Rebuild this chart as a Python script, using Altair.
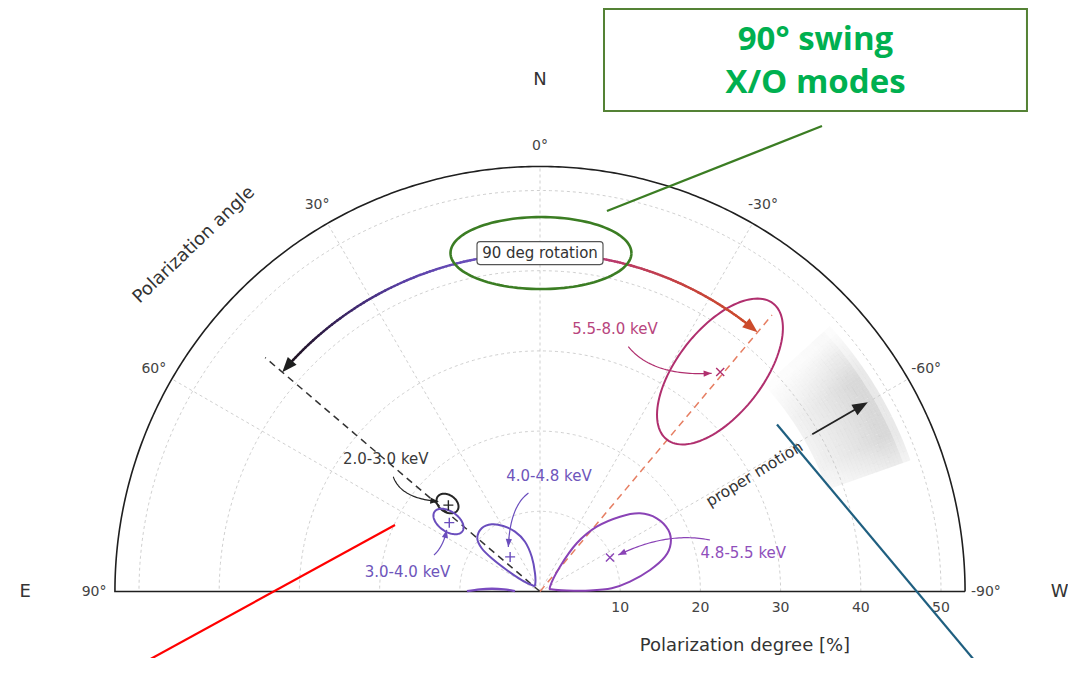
import math
import numpy as np
import pandas as pd
import altair as alt

# ---------------- values ----------------
R_MAX = 53.0                       # outer edge of the polarization-degree axis [%]
GRID_RADII = [10, 20, 30, 40, 50]
SPOKE_PA = [-60, -30, 0, 30, 60]
PA_TICKS = [90, 60, 30, 0, -30, -60, -90]
PA_TICK_LABELS = ["90°", "60°", "30°", "0°", "-30°", "-60°", "-90°"]
PD_TICKS = [10, 20, 30, 40, 50]
COMPASS = ["N", "E", "W"]
COMPASS_PA = [0, 90, -90]
COMPASS_R = [63.8, 64.2, 64.8]

BANDS = ["2.0-3.0 keV", "3.0-4.0 keV", "4.0-4.8 keV", "4.8-5.5 keV", "5.5-8.0 keV"]
BAND_COLORS = ["#262626", "#6a4dbd", "#6a4dbd", "#8a43b6", "#b02f6e"]
BAND_TEXT_COLORS = ["#3a3a3a", "#6e55bb", "#6e55bb", "#8f4fbb", "#b8457d"]
BEST_PD = [15.7, 14.2, 5.7, 9.7, 35.4]
BEST_PA = [46.7, 52.8, 40.8, -64.0, -39.4]
BEST_MARK = ["+", "+", "+", "x", "x"]

# elliptical contours: centre (x toward W, y toward N, in %), semi-axes [%], tilt [deg]
ELL_BAND = [0, 1, 4]
ELL_CX = [-11.53, -11.41, 22.44]
ELL_CY = [10.97, 8.73, 27.43]
ELL_A = [1.50, 2.12, 10.77]
ELL_B = [1.06, 1.25, 5.33]
ELL_TILT = [-35, -35, 52]

# tear-drop contours (vertices, x toward W, y toward N, in %)
C48_X = [-0.62, -0.62, -1.03, -1.87, -3.12, -4.58, -6.02, -7.27, -7.82, -7.27, -6.02, -4.15, -2.28, -1.03]
C48_Y = [0.81, 2.27, 4.34, 6.21, 7.46, 8.17, 8.38, 7.88, 6.63, 5.39, 4.14, 2.68, 1.43, 0.81]
C55_X = [1.25, 2.49, 4.58, 7.07, 9.98, 12.47, 14.55, 16.0, 16.3, 15.59, 13.72, 11.22, 8.94, 6.23, 3.33, 1.62]
C55_Y = [0.60, 3.09, 6.01, 8.08, 9.33, 9.75, 9.13, 7.67, 6.01, 4.34, 2.68, 1.22, 0.40, 0.12, 0.12, 0.25]
CLOW_X = [-9.1, -7.48, -5.99, -4.49, -3.12]
CLOW_Y = [0.04, 0.27, 0.34, 0.27, 0.04]

# band labels and their curved pointers (start, control, end; in %)
LABEL_X = [-19.23, -16.52, 1.12, 25.35, 9.35]
LABEL_Y = [16.52, 2.37, 14.40, 4.86, 32.73]
ARR_X0 = [-18.29, -13.22, -1.44, 21.20, 11.01]
ARR_Y0 = [14.30, 4.55, 12.28, 6.42, 30.52]
ARR_XC = [-17.33, -12.06, -3.74, 15.79, 14.13]
ARR_YC = [11.60, 5.59, 10.60, 7.50, 26.78]
ARR_X1 = [-12.68, -11.63, -3.95, 9.76, 21.40]
ARR_Y1 = [11.22, 7.67, 5.56, 4.55, 27.20]

# 90 degree swing
SWING_R = 42.2
SWING_PA = [49.6, -40.0]
DASH_R = 45.0
DASH_COLORS = ["#333333", "#e67e62"]

# proper motion
PM_PA = -60.0
PM_R = [39.2, 47.2]
PM_BAND_R = [38.0, 48.6]
PM_BAND_PA = [-70.5, -47.5]

# annotation overlay (in %)
CALLOUT_BOX = [7.98, 60.72, 59.91, 72.63]
CALLOUT_LINE = [35.16, 58.04, 8.35, 47.44]
CALLOUT_ELL = [0.12, 42.2, 11.28, 4.49]
RED_LINE = [-18.08, 8.29, -52.0, -10.3]
BLUE_LINE = [29.55, 20.82, 55.6, -10.3]

# ---------------- layout ----------------
K = 8.02                       # px per percent
W, H = 1060, 650
OX, OY = 532.0, 583.5          # origin inside the plot area, px
XDOM = [-OX / K, (W - OX) / K]
YDOM = [(OY - H) / K, OY / K]
FONT = "DejaVu Sans"

xs = alt.Scale(domain=XDOM, nice=False, zero=False)
ys = alt.Scale(domain=YDOM, nice=False, zero=False)
EX = alt.X("x:Q", scale=xs, axis=None)
EY = alt.Y("y:Q", scale=ys, axis=None)


def polar(r, pa):
    t = np.radians(pa)
    return -r * np.sin(t), r * np.cos(t)


def mix(stops, t):
    n = len(stops) - 1
    k = min(int(t * n), n - 1)
    u = t * n - k
    a = [int(stops[k][i:i + 2], 16) for i in (1, 3, 5)]
    b = [int(stops[k + 1][i:i + 2], 16) for i in (1, 3, 5)]
    return "#%02x%02x%02x" % tuple(int(round(a[i] + (b[i] - a[i]) * u)) for i in range(3))


def add_path(rows, gid, xv, yv, color):
    for i, (x, y) in enumerate(zip(xv, yv)):
        rows.append(dict(g=gid, i=i, x=float(x), y=float(y), c=color))


def path_layer(rows, width, dash=None, interp="linear", opacity=1.0, cap="butt"):
    kw = dict(strokeWidth=width, interpolate=interp, opacity=opacity, strokeCap=cap)
    if dash:
        kw["strokeDash"] = dash
    return alt.Chart(pd.DataFrame(rows)).mark_line(**kw).encode(
        x=EX, y=EY, detail="g:N", order="i:Q", color=alt.Color("c:N", scale=None))


def screen_angle(dx, dy):
    return math.degrees(math.atan2(-dy, dx)) % 360


layers = []

# ---- proper-motion shaded band (short arc strokes with graded opacity)
DR, DPA = 0.5, 0.5
band = []
for r0 in np.arange(PM_BAND_R[0], PM_BAND_R[1] - 1e-6, DR):
    rm = r0 + DR / 2
    if rm < 46.5:
        fr = 0.35 + 0.65 * ((rm - PM_BAND_R[0]) / 8.5) ** 1.2
    else:
        fr = 1.0
    if rm > 48.2:
        fr *= 0.6
    for pa in np.arange(PM_BAND_PA[0], PM_BAND_PA[1] - 1e-6, DPA):
        pc = pa + DPA / 2
        if pc > -56:
            ft = max(0.15, 1 - (pc + 56) / 8.5)
        elif pc < -66:
            ft = 1 - 0.5 * (-66 - pc) / 4.5
        else:
            ft = 1.0
        op = 0.32 * fr * ft
        x0, y0 = polar(rm, pa)
        x1, y1 = polar(rm, pa + DPA)
        band.append(dict(x=float(x0), y=float(y0), x2=float(x1), y2=float(y1), op=op))
layers.append(
    alt.Chart(pd.DataFrame(band)).mark_rule(color="#8a8a8a", strokeWidth=DR * K + 0.1,
                                            strokeCap="butt").encode(
        x=EX, y=EY, x2="x2:Q", y2="y2:Q", opacity=alt.Opacity("op:Q", scale=None))
)

# ---- grid
grid = []
pa_line = np.linspace(-90, 90, 361)
for r in GRID_RADII:
    gx, gy = polar(r, pa_line)
    add_path(grid, "c%d" % r, gx, gy, "#c9c9c9")
for pa in SPOKE_PA:
    gx, gy = polar(np.array([0.0, R_MAX]), pa)
    add_path(grid, "s%d" % pa, gx, gy, "#c9c9c9")
layers.append(path_layer(grid, 0.9, dash=[3, 3]))

# ---- outer frame
frame = []
fx, fy = polar(R_MAX, np.linspace(-90, 90, 361))
fx = np.concatenate([fx, [-R_MAX, R_MAX]])
fy = np.concatenate([fy, [0.0, 0.0]])
add_path(frame, "f", fx, fy, "#1f1f1f")
layers.append(path_layer(frame, 1.6))

# ---- dashed PA lines
dashes = []
for j, pa in enumerate(SWING_PA):
    dx_, dy_ = polar(np.array([0.0, DASH_R]), pa)
    add_path(dashes, "d%d" % j, dx_, dy_, DASH_COLORS[j])
layers.append(path_layer(dashes, 1.5, dash=[7, 5]))

# ---- contours
cont = []
for k in range(len(ELL_BAND)):
    t = np.linspace(0, 2 * np.pi, 121)
    ph = math.radians(ELL_TILT[k])
    ex = ELL_CX[k] + ELL_A[k] * np.cos(t) * math.cos(ph) - ELL_B[k] * np.sin(t) * math.sin(ph)
    ey = ELL_CY[k] + ELL_A[k] * np.cos(t) * math.sin(ph) + ELL_B[k] * np.sin(t) * math.cos(ph)
    add_path(cont, "e%d" % k, ex, ey, BAND_COLORS[ELL_BAND[k]])
layers.append(path_layer(cont, 2.0))
tear = []
add_path(tear, "t48", C48_X, C48_Y, BAND_COLORS[2])
add_path(tear, "t55", C55_X, C55_Y, BAND_COLORS[3])
layers.append(path_layer(tear, 2.0, interp="cardinal-closed"))
low = []
add_path(low, "low", CLOW_X, CLOW_Y, "#7a4cc0")
layers.append(path_layer(low, 2.4, interp="monotone"))

# ---- best-fit markers
mk = []
for j in range(len(BANDS)):
    mx, my = polar(BEST_PD[j], BEST_PA[j])
    mk.append(dict(x=float(mx), y=float(my), c=BAND_COLORS[j], m=BEST_MARK[j]))
mkdf = pd.DataFrame(mk)
layers.append(alt.Chart(mkdf[mkdf.m == "x"]).mark_point(
    shape="M-1,-1L1,1M-1,1L1,-1", filled=False, strokeWidth=1.4, size=64, opacity=1).encode(
    x=EX, y=EY, color=alt.Color("c:N", scale=None)))
layers.append(alt.Chart(mkdf[mkdf.m == "+"]).mark_point(
    shape="M-1,0L1,0M0,-1L0,1", filled=False, strokeWidth=1.4, size=100, opacity=1).encode(
    x=EX, y=EY, color=alt.Color("c:N", scale=None)))

# ---- curved label pointers
curves, heads = [], []
tt = np.linspace(0, 1, 41)
for j in range(len(BANDS)):
    bx = (1 - tt) ** 2 * ARR_X0[j] + 2 * (1 - tt) * tt * ARR_XC[j] + tt ** 2 * ARR_X1[j]
    by = (1 - tt) ** 2 * ARR_Y0[j] + 2 * (1 - tt) * tt * ARR_YC[j] + tt ** 2 * ARR_Y1[j]
    col = "#222222" if j == 0 else BAND_COLORS[j]
    add_path(curves, "a%d" % j, bx, by, col)
    heads.append(dict(x=float(bx[-1]), y=float(by[-1]), c=col, s=64.0,
                      ang=screen_angle(bx[-1] - bx[-5], by[-1] - by[-5])))
layers.append(path_layer(curves, 1.2))

# ---- 90 degree swing arcs (colour gradient)
segs = []
left_stops = ["#7557c6", "#6a4fbb", "#5a40a6", "#3b2563", "#1f1320"]
right_stops = ["#a9368f", "#b93a6c", "#c5413f", "#cc4b2b"]
for pa_end, stops in ((SWING_PA[0] - 2.2, left_stops), (SWING_PA[1] + 2.2, right_stops)):
    pas = np.linspace(0.0, pa_end, 81)
    for j in range(80):
        x0, y0 = polar(SWING_R, pas[j])
        x1, y1 = polar(SWING_R, pas[j + 1])
        segs.append(dict(x=float(x0), y=float(y0), x2=float(x1), y2=float(y1),
                         c=mix(stops, (j + 0.5) / 80)))
layers.append(alt.Chart(pd.DataFrame(segs)).mark_rule(strokeWidth=2.4, strokeCap="round").encode(
    x=EX, y=EY, x2="x2:Q", y2="y2:Q", color=alt.Color("c:N", scale=None)))
for pa, col in ((SWING_PA[0], "#1e1e1e"), (SWING_PA[1], "#cc4b2b")):
    hx, hy = polar(SWING_R, pa)
    px_, py_ = polar(SWING_R, pa - 2.0 * np.sign(pa))
    heads.append(dict(x=float(hx), y=float(hy), c=col, s=225.0,
                      ang=screen_angle(hx - px_, hy - py_)))

# ---- proper motion arrow
pmx, pmy = polar(np.array([PM_R[0], PM_R[1] - 1.2]), PM_PA)
pm = []
add_path(pm, "pm", pmx, pmy, "#222222")
layers.append(path_layer(pm, 1.8))
hx, hy = polar(PM_R[1], PM_PA)
heads.append(dict(x=float(hx), y=float(hy), c="#222222", s=240.0,
                  ang=screen_angle(hx - pmx[0], hy - pmy[0])))

layers.append(alt.Chart(pd.DataFrame(heads)).mark_point(
    shape="M0,0L-2,-0.78L-2,0.78Z", filled=True, opacity=1, strokeWidth=0).encode(
    x=EX, y=EY, color=alt.Color("c:N", scale=None), size=alt.Size("s:Q", scale=None),
    angle=alt.Angle("ang:Q", scale=None)))

# ---- "90 deg rotation" label box
bx0, by0 = polar(SWING_R, 0.0)
box = pd.DataFrame([dict(x=bx0 - 63 / K, x2=bx0 + 63 / K, y=by0 - 11.5 / K, y2=by0 + 11.5 / K)])
layers.append(alt.Chart(box).mark_rect(fill="white", stroke="#555555", strokeWidth=1.2,
                                       cornerRadius=3).encode(x=EX, y=EY, x2="x2:Q", y2="y2:Q"))

# ---- texts
txt = []
for j in range(len(BANDS)):
    txt.append(dict(t=BANDS[j], x=LABEL_X[j], y=LABEL_Y[j], c=BAND_TEXT_COLORS[j], fs=15, a=0))
for pa, lab in zip(PA_TICKS, PA_TICK_LABELS):
    lx, ly = polar(55.6, pa)
    txt.append(dict(t=lab, x=float(lx), y=float(ly), c="#444444", fs=14, a=0))
for r in PD_TICKS:
    txt.append(dict(t=str(r), x=float(r), y=-2.06, c="#444444", fs=14, a=0))
for lab, pa, r in zip(COMPASS, COMPASS_PA, COMPASS_R):
    lx, ly = polar(r, pa)
    txt.append(dict(t=lab, x=float(lx), y=float(ly), c="#333333", fs=18, a=0))
txt.append(dict(t="Polarization degree [%]", x=25.56, y=-6.8, c="#333333", fs=18, a=0))
txt.append(dict(t="Polarization angle", x=-43.14, y=43.2, c="#333333", fs=18, a=316.4))
txt.append(dict(t="proper motion", x=26.75, y=14.65, c="#333333", fs=15.5, a=328.6))
txt.append(dict(t="90 deg rotation", x=float(bx0), y=float(by0), c="#333333", fs=15, a=0))
layers.append(alt.Chart(pd.DataFrame(txt)).mark_text(font=FONT, align="center", baseline="middle").encode(
    x=EX, y=EY, text="t:N", color=alt.Color("c:N", scale=None),
    size=alt.Size("fs:Q", scale=None), angle=alt.Angle("a:Q", scale=None)))

# ---- annotation overlay
ov = []
t = np.linspace(0, 2 * np.pi, 121)
add_path(ov, "ell", CALLOUT_ELL[0] + CALLOUT_ELL[2] * np.cos(t),
         CALLOUT_ELL[1] + CALLOUT_ELL[3] * np.sin(t), "#3b7d23")
layers.append(path_layer(ov, 2.6))
rules = pd.DataFrame([
    dict(x=CALLOUT_LINE[0], y=CALLOUT_LINE[1], x2=CALLOUT_LINE[2], y2=CALLOUT_LINE[3], c="#3b7d23"),
    dict(x=RED_LINE[0], y=RED_LINE[1], x2=RED_LINE[2], y2=RED_LINE[3], c="#ff0000"),
    dict(x=BLUE_LINE[0], y=BLUE_LINE[1], x2=BLUE_LINE[2], y2=BLUE_LINE[3], c="#1f5f80"),
])
layers.append(alt.Chart(rules).mark_rule(strokeWidth=2.2).encode(
    x=EX, y=EY, x2="x2:Q", y2="y2:Q", color=alt.Color("c:N", scale=None)))
cb = pd.DataFrame([dict(x=CALLOUT_BOX[0], x2=CALLOUT_BOX[1], y=CALLOUT_BOX[2], y2=CALLOUT_BOX[3])])
layers.append(alt.Chart(cb).mark_rect(fill="white", stroke="#548235", strokeWidth=2).encode(
    x=EX, y=EY, x2="x2:Q", y2="y2:Q"))
cx_mid = (CALLOUT_BOX[0] + CALLOUT_BOX[1]) / 2
title = pd.DataFrame([dict(t="90° swing", x=cx_mid, y=67.52), dict(t="X/O modes", x=cx_mid, y=62.16)])
layers.append(alt.Chart(title).mark_text(font="Open Sans", fontWeight="bold", fontSize=33,
                                         color="#00b050", align="center", baseline="alphabetic").encode(
    x=EX, y=EY, text="t:N"))

chart = alt.layer(*layers).properties(
    width=W, height=H, padding=0, autosize=alt.AutoSizeParams(type="none"), background="white"
).configure_view(stroke="transparent")

chart.save("out.html", embed_options={"renderer": "svg", "actions": False})
